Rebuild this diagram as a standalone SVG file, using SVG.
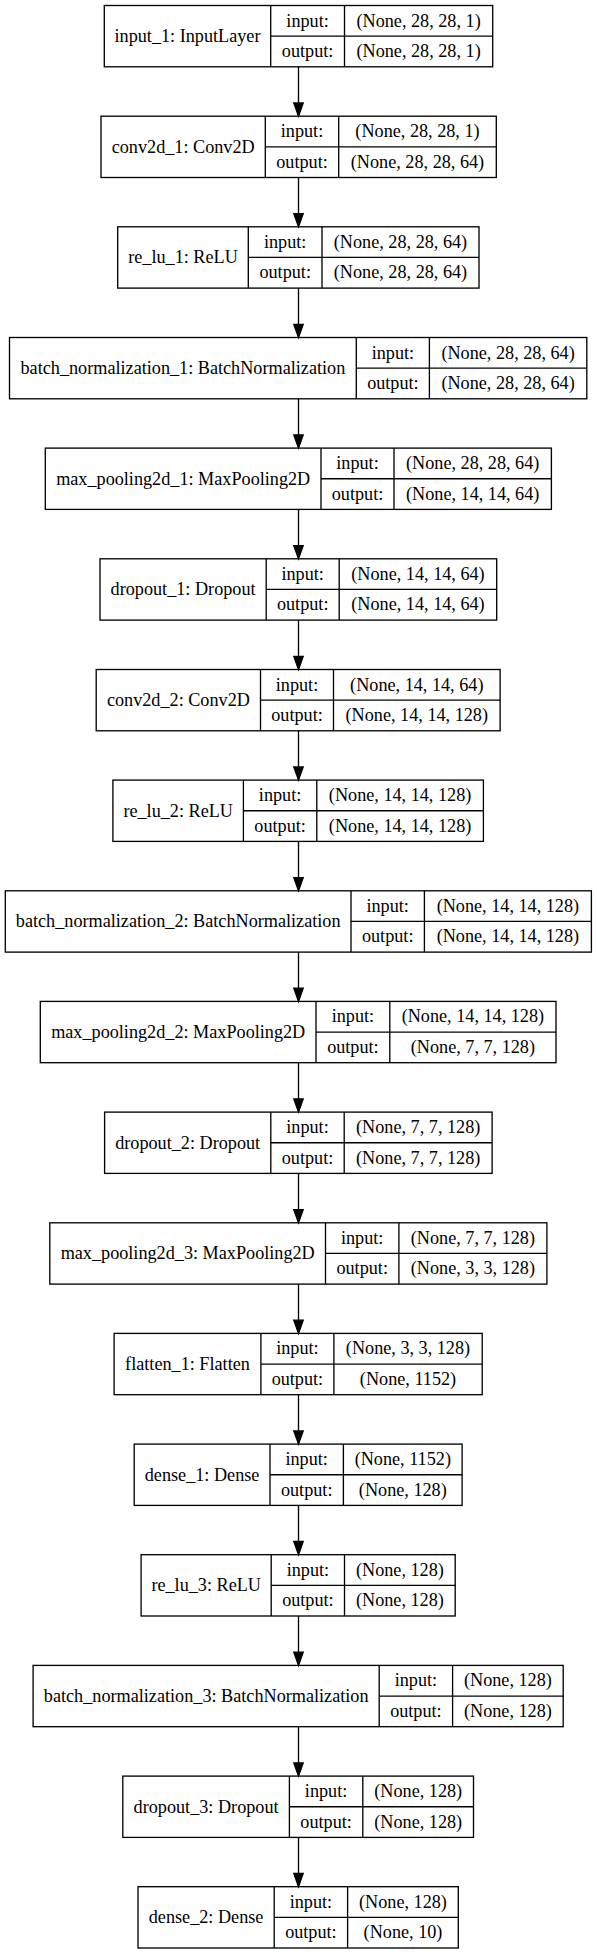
<svg xmlns="http://www.w3.org/2000/svg" width="597" height="1955" viewBox="0 0 597 1955">
<style>
rect{fill:none;stroke:#000;stroke-width:1.33}
.d{stroke:#000;stroke-width:1.33}
text{font-family:"Liberation Serif","Times New Roman",serif;font-size:18.2px;fill:#000;text-anchor:middle}
.e{stroke:#000;stroke-width:1.33;fill:none}
.h{fill:#000;stroke:#000;stroke-width:1.33}
</style>
<rect x="0" y="0" width="597" height="1955" style="fill:#fff;stroke:none"/>
<g id="edges">
<line class="e" x1="298.5" y1="66.8" x2="298.5" y2="103"/><polygon class="h" points="293.8,103 303.2,103 298.5,116.2"/>
<line class="e" x1="298.5" y1="177.5" x2="298.5" y2="213.6"/><polygon class="h" points="293.8,213.6 303.2,213.6 298.5,226.8"/>
<line class="e" x1="298.5" y1="288.1" x2="298.5" y2="324.3"/><polygon class="h" points="293.8,324.3 303.2,324.3 298.5,337.5"/>
<line class="e" x1="298.5" y1="398.8" x2="298.5" y2="434.9"/><polygon class="h" points="293.8,434.9 303.2,434.9 298.5,448.1"/>
<line class="e" x1="298.5" y1="509.4" x2="298.5" y2="545.6"/><polygon class="h" points="293.8,545.6 303.2,545.6 298.5,558.8"/>
<line class="e" x1="298.5" y1="620.1" x2="298.5" y2="656.3"/><polygon class="h" points="293.8,656.3 303.2,656.3 298.5,669.5"/>
<line class="e" x1="298.5" y1="730.8" x2="298.5" y2="766.9"/><polygon class="h" points="293.8,766.9 303.2,766.9 298.5,780.1"/>
<line class="e" x1="298.5" y1="841.4" x2="298.5" y2="877.6"/><polygon class="h" points="293.8,877.6 303.2,877.6 298.5,890.8"/>
<line class="e" x1="298.5" y1="952.1" x2="298.5" y2="988.2"/><polygon class="h" points="293.8,988.2 303.2,988.2 298.5,1001.4"/>
<line class="e" x1="298.5" y1="1062.7" x2="298.5" y2="1098.9"/><polygon class="h" points="293.8,1098.9 303.2,1098.9 298.5,1112.1"/>
<line class="e" x1="298.5" y1="1173.4" x2="298.5" y2="1209.6"/><polygon class="h" points="293.8,1209.6 303.2,1209.6 298.5,1222.8"/>
<line class="e" x1="298.5" y1="1284.1" x2="298.5" y2="1320.2"/><polygon class="h" points="293.8,1320.2 303.2,1320.2 298.5,1333.4"/>
<line class="e" x1="298.5" y1="1394.7" x2="298.5" y2="1430.9"/><polygon class="h" points="293.8,1430.9 303.2,1430.9 298.5,1444.1"/>
<line class="e" x1="298.5" y1="1505.4" x2="298.5" y2="1541.5"/><polygon class="h" points="293.8,1541.5 303.2,1541.5 298.5,1554.7"/>
<line class="e" x1="298.5" y1="1616" x2="298.5" y2="1652.2"/><polygon class="h" points="293.8,1652.2 303.2,1652.2 298.5,1665.4"/>
<line class="e" x1="298.5" y1="1726.7" x2="298.5" y2="1762.9"/><polygon class="h" points="293.8,1762.9 303.2,1762.9 298.5,1776.1"/>
<line class="e" x1="298.5" y1="1837.4" x2="298.5" y2="1873.5"/><polygon class="h" points="293.8,1873.5 303.2,1873.5 298.5,1886.7"/>
</g>
<g id="input_1" transform="translate(0,5.5)">
<rect x="104.3" y="0" width="388.4" height="61.3"/>
<line class="d" x1="270.7" y1="0" x2="270.7" y2="61.3"/><line class="d" x1="344.5" y1="0" x2="344.5" y2="61.3"/><line class="d" x1="270.7" y1="30.65" x2="492.7" y2="30.65"/>
<text x="187.5" y="36.5">input_1: InputLayer</text>
<text x="307.6" y="21">input:</text><text x="307.6" y="51.7">output:</text>
<text x="418.6" y="21">(None, 28, 28, 1)</text><text x="418.6" y="51.7">(None, 28, 28, 1)</text>
</g>
<g id="conv2d_1" transform="translate(0,116.2)">
<rect x="101" y="0" width="395.3" height="61.3"/>
<line class="d" x1="265.3" y1="0" x2="265.3" y2="61.3"/><line class="d" x1="338.7" y1="0" x2="338.7" y2="61.3"/><line class="d" x1="265.3" y1="30.65" x2="496.3" y2="30.65"/>
<text x="183.2" y="36.5">conv2d_1: Conv2D</text>
<text x="302" y="21">input:</text><text x="302" y="51.7">output:</text>
<text x="417.5" y="21">(None, 28, 28, 1)</text><text x="417.5" y="51.7">(None, 28, 28, 64)</text>
</g>
<g id="re_lu_1" transform="translate(0,226.8)">
<rect x="117.7" y="0" width="361.3" height="61.3"/>
<line class="d" x1="248.3" y1="0" x2="248.3" y2="61.3"/><line class="d" x1="322" y1="0" x2="322" y2="61.3"/><line class="d" x1="248.3" y1="30.65" x2="479" y2="30.65"/>
<text x="183" y="36.5">re_lu_1: ReLU</text>
<text x="285.2" y="21">input:</text><text x="285.2" y="51.7">output:</text>
<text x="400.5" y="21">(None, 28, 28, 64)</text><text x="400.5" y="51.7">(None, 28, 28, 64)</text>
</g>
<g id="batch_normalization_1" transform="translate(0,337.5)">
<rect x="9.5" y="0" width="577.3" height="61.3"/>
<line class="d" x1="356.3" y1="0" x2="356.3" y2="61.3"/><line class="d" x1="429.4" y1="0" x2="429.4" y2="61.3"/><line class="d" x1="356.3" y1="30.65" x2="586.8" y2="30.65"/>
<text x="182.9" y="36.5">batch_normalization_1: BatchNormalization</text>
<text x="392.9" y="21">input:</text><text x="392.9" y="51.7">output:</text>
<text x="508.1" y="21">(None, 28, 28, 64)</text><text x="508.1" y="51.7">(None, 28, 28, 64)</text>
</g>
<g id="max_pooling2d_1" transform="translate(0,448.1)">
<rect x="45.3" y="0" width="506.1" height="61.3"/>
<line class="d" x1="321" y1="0" x2="321" y2="61.3"/><line class="d" x1="394" y1="0" x2="394" y2="61.3"/><line class="d" x1="321" y1="30.65" x2="551.4" y2="30.65"/>
<text x="183.2" y="36.5">max_pooling2d_1: MaxPooling2D</text>
<text x="357.5" y="21">input:</text><text x="357.5" y="51.7">output:</text>
<text x="472.7" y="21">(None, 28, 28, 64)</text><text x="472.7" y="51.7">(None, 14, 14, 64)</text>
</g>
<g id="dropout_1" transform="translate(0,558.8)">
<rect x="100" y="0" width="396.7" height="61.3"/>
<line class="d" x1="266.2" y1="0" x2="266.2" y2="61.3"/><line class="d" x1="339.2" y1="0" x2="339.2" y2="61.3"/><line class="d" x1="266.2" y1="30.65" x2="496.7" y2="30.65"/>
<text x="183.1" y="36.5">dropout_1: Dropout</text>
<text x="302.7" y="21">input:</text><text x="302.7" y="51.7">output:</text>
<text x="418" y="21">(None, 14, 14, 64)</text><text x="418" y="51.7">(None, 14, 14, 64)</text>
</g>
<g id="conv2d_2" transform="translate(0,669.5)">
<rect x="96.2" y="0" width="403.9" height="61.3"/>
<line class="d" x1="260.5" y1="0" x2="260.5" y2="61.3"/><line class="d" x1="333.5" y1="0" x2="333.5" y2="61.3"/><line class="d" x1="260.5" y1="30.65" x2="500.1" y2="30.65"/>
<text x="178.4" y="36.5">conv2d_2: Conv2D</text>
<text x="297" y="21">input:</text><text x="297" y="51.7">output:</text>
<text x="416.8" y="21">(None, 14, 14, 64)</text><text x="416.8" y="51.7">(None, 14, 14, 128)</text>
</g>
<g id="re_lu_2" transform="translate(0,780.1)">
<rect x="112.9" y="0" width="370.5" height="61.3"/>
<line class="d" x1="243.4" y1="0" x2="243.4" y2="61.3"/><line class="d" x1="316.8" y1="0" x2="316.8" y2="61.3"/><line class="d" x1="243.4" y1="30.65" x2="483.4" y2="30.65"/>
<text x="178.2" y="36.5">re_lu_2: ReLU</text>
<text x="280.1" y="21">input:</text><text x="280.1" y="51.7">output:</text>
<text x="400.1" y="21">(None, 14, 14, 128)</text><text x="400.1" y="51.7">(None, 14, 14, 128)</text>
</g>
<g id="batch_normalization_2" transform="translate(0,890.8)">
<rect x="5.3" y="0" width="586.1" height="61.3"/>
<line class="d" x1="351" y1="0" x2="351" y2="61.3"/><line class="d" x1="424.4" y1="0" x2="424.4" y2="61.3"/><line class="d" x1="351" y1="30.65" x2="591.4" y2="30.65"/>
<text x="178.2" y="36.5">batch_normalization_2: BatchNormalization</text>
<text x="387.7" y="21">input:</text><text x="387.7" y="51.7">output:</text>
<text x="507.9" y="21">(None, 14, 14, 128)</text><text x="507.9" y="51.7">(None, 14, 14, 128)</text>
</g>
<g id="max_pooling2d_2" transform="translate(0,1001.4)">
<rect x="40.3" y="0" width="515.7" height="61.3"/>
<line class="d" x1="316" y1="0" x2="316" y2="61.3"/><line class="d" x1="389.8" y1="0" x2="389.8" y2="61.3"/><line class="d" x1="316" y1="30.65" x2="556" y2="30.65"/>
<text x="178.2" y="36.5">max_pooling2d_2: MaxPooling2D</text>
<text x="352.9" y="21">input:</text><text x="352.9" y="51.7">output:</text>
<text x="472.9" y="21">(None, 14, 14, 128)</text><text x="472.9" y="51.7">(None, 7, 7, 128)</text>
</g>
<g id="dropout_2" transform="translate(0,1112.1)">
<rect x="104.6" y="0" width="387.5" height="61.3"/>
<line class="d" x1="270.8" y1="0" x2="270.8" y2="61.3"/><line class="d" x1="344.2" y1="0" x2="344.2" y2="61.3"/><line class="d" x1="270.8" y1="30.65" x2="492.1" y2="30.65"/>
<text x="187.7" y="36.5">dropout_2: Dropout</text>
<text x="307.5" y="21">input:</text><text x="307.5" y="51.7">output:</text>
<text x="418.2" y="21">(None, 7, 7, 128)</text><text x="418.2" y="51.7">(None, 7, 7, 128)</text>
</g>
<g id="max_pooling2d_3" transform="translate(0,1222.8)">
<rect x="49.8" y="0" width="497.1" height="61.3"/>
<line class="d" x1="325.5" y1="0" x2="325.5" y2="61.3"/><line class="d" x1="398.9" y1="0" x2="398.9" y2="61.3"/><line class="d" x1="325.5" y1="30.65" x2="546.9" y2="30.65"/>
<text x="187.7" y="36.5">max_pooling2d_3: MaxPooling2D</text>
<text x="362.2" y="21">input:</text><text x="362.2" y="51.7">output:</text>
<text x="472.9" y="21">(None, 7, 7, 128)</text><text x="472.9" y="51.7">(None, 3, 3, 128)</text>
</g>
<g id="flatten_1" transform="translate(0,1333.4)">
<rect x="114.1" y="0" width="368.1" height="61.3"/>
<line class="d" x1="260.9" y1="0" x2="260.9" y2="61.3"/><line class="d" x1="333.9" y1="0" x2="333.9" y2="61.3"/><line class="d" x1="260.9" y1="30.65" x2="482.2" y2="30.65"/>
<text x="187.5" y="36.5">flatten_1: Flatten</text>
<text x="297.4" y="21">input:</text><text x="297.4" y="51.7">output:</text>
<text x="408" y="21">(None, 3, 3, 128)</text><text x="408" y="51.7">(None, 1152)</text>
</g>
<g id="dense_1" transform="translate(0,1444.1)">
<rect x="134.2" y="0" width="327.9" height="61.3"/>
<line class="d" x1="270" y1="0" x2="270" y2="61.3"/><line class="d" x1="343.4" y1="0" x2="343.4" y2="61.3"/><line class="d" x1="270" y1="30.65" x2="462.1" y2="30.65"/>
<text x="202.1" y="36.5">dense_1: Dense</text>
<text x="306.7" y="21">input:</text><text x="306.7" y="51.7">output:</text>
<text x="402.8" y="21">(None, 1152)</text><text x="402.8" y="51.7">(None, 128)</text>
</g>
<g id="re_lu_3" transform="translate(0,1554.7)">
<rect x="141.1" y="0" width="314.1" height="61.3"/>
<line class="d" x1="271.2" y1="0" x2="271.2" y2="61.3"/><line class="d" x1="344.5" y1="0" x2="344.5" y2="61.3"/><line class="d" x1="271.2" y1="30.65" x2="455.2" y2="30.65"/>
<text x="206.2" y="36.5">re_lu_3: ReLU</text>
<text x="307.9" y="21">input:</text><text x="307.9" y="51.7">output:</text>
<text x="399.9" y="21">(None, 128)</text><text x="399.9" y="51.7">(None, 128)</text>
</g>
<g id="batch_normalization_3" transform="translate(0,1665.4)">
<rect x="33.1" y="0" width="530.1" height="61.3"/>
<line class="d" x1="379.2" y1="0" x2="379.2" y2="61.3"/><line class="d" x1="452.6" y1="0" x2="452.6" y2="61.3"/><line class="d" x1="379.2" y1="30.65" x2="563.2" y2="30.65"/>
<text x="206.2" y="36.5">batch_normalization_3: BatchNormalization</text>
<text x="415.9" y="21">input:</text><text x="415.9" y="51.7">output:</text>
<text x="507.9" y="21">(None, 128)</text><text x="507.9" y="51.7">(None, 128)</text>
</g>
<g id="dropout_3" transform="translate(0,1776.1)">
<rect x="122.8" y="0" width="350.7" height="61.3"/>
<line class="d" x1="289.4" y1="0" x2="289.4" y2="61.3"/><line class="d" x1="362.8" y1="0" x2="362.8" y2="61.3"/><line class="d" x1="289.4" y1="30.65" x2="473.5" y2="30.65"/>
<text x="206.1" y="36.5">dropout_3: Dropout</text>
<text x="326.1" y="21">input:</text><text x="326.1" y="51.7">output:</text>
<text x="418.2" y="21">(None, 128)</text><text x="418.2" y="51.7">(None, 128)</text>
</g>
<g id="dense_2" transform="translate(0,1886.7)">
<rect x="138" y="0" width="320.3" height="61.3"/>
<line class="d" x1="274.2" y1="0" x2="274.2" y2="61.3"/><line class="d" x1="347.6" y1="0" x2="347.6" y2="61.3"/><line class="d" x1="274.2" y1="30.65" x2="458.3" y2="30.65"/>
<text x="206.1" y="36.5">dense_2: Dense</text>
<text x="310.9" y="21">input:</text><text x="310.9" y="51.7">output:</text>
<text x="403" y="21">(None, 128)</text><text x="403" y="51.7">(None, 10)</text>
</g>
</svg>
